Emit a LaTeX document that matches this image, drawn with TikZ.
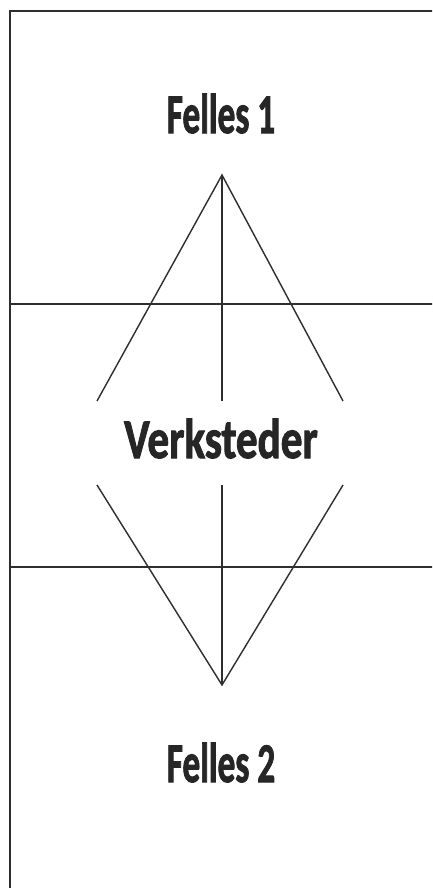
\documentclass[tikz,border=0pt]{standalone}
\usepackage{fontspec}
\setmainfont{Carlito}
\newcommand\heavytext[1]{\special{pdf:code 2 Tr 1.1 w}#1\special{pdf:code 0 Tr}}
\begin{document}
\begin{tikzpicture}[x=1pt,y=-1pt,
  ln/.style={draw=black!82,line width=1.4pt},
  lbl/.style={anchor=base,inner sep=0pt,text=black!85,font=\bfseries\fontsize{56}{60}\selectfont}]
\useasboundingbox (0,0) rectangle (432,888);
\clip (0,0) rectangle (432,888);
\fill[white] (0,0) rectangle (432,888);
\draw[ln] (10,900) -- (10,11) -- (445,11);
\coordinate (hl1) at (10,304); \coordinate (hr1) at (445,304);
\coordinate (hl2) at (10,567); \coordinate (hr2) at (445,567);
\draw[ln] (hl1) -- (hr1);
\draw[ln] (hl2) -- (hr2);
\coordinate (ta) at (222,175);
\coordinate (tl) at (97,401);
\coordinate (tr) at (343,401);
\coordinate (tv) at (222,401);
\coordinate (ba) at (222,685);
\coordinate (bl) at (97,485);
\coordinate (br) at (343,485);
\coordinate (bv) at (222,485);
\draw[ln] (tl) -- (ta) -- (tr);
\draw[ln] (ta) -- (tv);
\draw[ln] (bl) -- (ba) -- (br);
\draw[ln] (ba) -- (bv);
\node[lbl,xscale=0.63] (f1) at (221,133) {\heavytext{Felles 1}};
\node[lbl,xscale=0.77] (vk) at (221,458) {\heavytext{Verksteder}};
\node[lbl,xscale=0.63] (f2) at (221,782) {\heavytext{Felles 2}};
\end{tikzpicture}
\end{document}
